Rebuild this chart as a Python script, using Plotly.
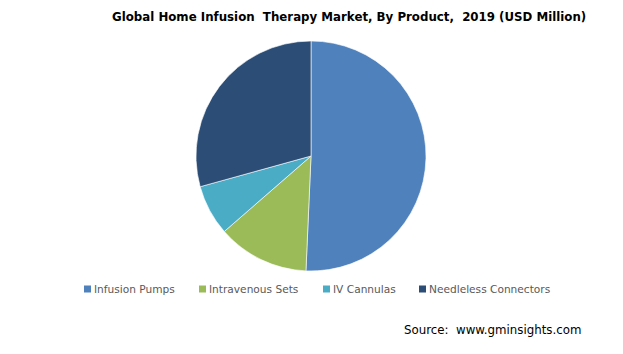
import plotly.graph_objects as go

W, H = 623, 354

categories = ["Infusion Pumps", "Intravenous Sets", "IV Cannulas", "Needleless Connectors"]
shares = [50.7, 12.9, 7.1, 29.3]
colors = ["#4F81BD", "#9BBB59", "#4BACC6", "#2C4D75"]

title_text = "Global Home Infusion  Therapy Market, By Product,  2019 (USD Million)"
source_text = "Source:  www.gminsights.com"

# layout helpers (pixel -> paper)
def px(x):
    return x / W

def py(y):
    return 1 - y / H

cx, cy, r = 311, 156, 115

fig = go.Figure(go.Pie(
    labels=categories,
    values=shares,
    marker=dict(colors=colors, line=dict(color="white", width=0.6)),
    sort=False,
    direction="clockwise",
    rotation=0,
    textinfo="none",
    hoverinfo="label+value",
    showlegend=False,
    domain=dict(x=[px(cx - r), px(cx + r)], y=[py(cy + r), py(cy - r)]),
))

annotations = [
    dict(text="<b>" + title_text + "</b>", x=px(349), y=py(17), xref="paper", yref="paper",
         showarrow=False, xanchor="center", yanchor="middle",
         font=dict(family="DejaVu Sans", size=11.8, color="#000000")),
    dict(text=source_text, x=px(402), y=py(330), xref="paper", yref="paper",
         showarrow=False, xanchor="left", yanchor="middle",
         font=dict(family="DejaVu Sans", size=11.8, color="#000000")),
]
shapes = []

legend_x = [84, 199, 323, 419]
ly = 289
for lx, name, col in zip(legend_x, categories, colors):
    shapes.append(dict(type="rect", xref="paper", yref="paper",
                       x0=px(lx), x1=px(lx + 7), y0=py(ly + 3.5), y1=py(ly - 3.5),
                       fillcolor=col, line=dict(width=0)))
    annotations.append(dict(text=name, x=px(lx + 8), y=py(ly), xref="paper", yref="paper",
                            showarrow=False, xanchor="left", yanchor="middle",
                            font=dict(family="DejaVu Sans", size=10.6, color="#595959")))

fig.update_layout(
    width=W, height=H,
    margin=dict(l=0, r=0, t=0, b=0),
    paper_bgcolor="white", plot_bgcolor="white",
    annotations=annotations,
    shapes=shapes,
    showlegend=False,
)

fig.write_html("out.html")
